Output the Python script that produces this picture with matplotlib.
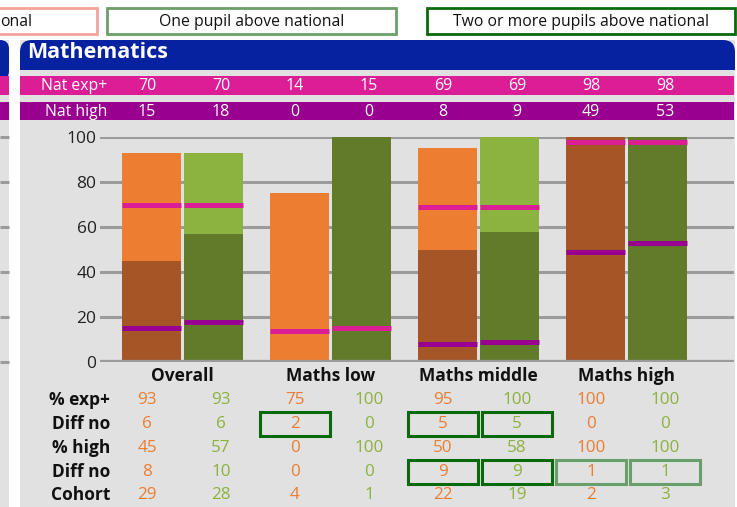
import matplotlib
matplotlib.use("Agg")
import matplotlib.pyplot as plt
import numpy as np
from matplotlib.patches import Rectangle, FancyBboxPatch
from matplotlib.transforms import blended_transform_factory

# data
categories = ["Overall", "Maths low", "Maths middle", "Maths high"]
nat_exp = [70, 70, 14, 15, 69, 69, 98, 98]
nat_high = [15, 18, 0, 0, 8, 9, 49, 53]
exp_pct = [93, 93, 75, 100, 95, 100, 100, 100]
diff_exp = [6, 6, 2, 0, 5, 5, 0, 0]
high_pct = [45, 57, 0, 100, 50, 58, 100, 100]
diff_high = [8, 10, 0, 0, 9, 9, 1, 1]
cohort = [29, 28, 4, 1, 22, 19, 2, 3]
# 0 = no box, 1 = one pupil above national, 2 = two or more above
flag_exp = [0, 0, 2, 0, 2, 2, 0, 0]
flag_high = [0, 0, 0, 0, 2, 2, 1, 1]
yticks = [0, 20, 40, 60, 80, 100]
legend_labels = ["onal", "One pupil above national", "Two or more pupils above national"]

ORANGE = "#ED7D31"
ORANGE_DK = "#A65526"
GREEN = "#8CB240"
GREEN_DK = "#617B2B"
PINK = "#DC1E96"
PURPLE = "#990090"
BLUE = "#0722A0"
PANEL = "#E1E1E1"
GRID = "#9B9B9B"
BOX_DK = "#0A690A"
BOX_LT = "#6A9E6A"
BOX_PINK = "#F4A29C"
FONT = "Open Sans"

fig = plt.figure(figsize=(7.37, 5.07), dpi=100)
fig.patch.set_facecolor("white")

# pixel canvas for the panel decoration
bg = fig.add_axes([0, 0, 1, 1])
bg.set_xlim(0, 737)
bg.set_ylim(507, 0)
bg.axis("off")

# legend boxes on top
for (x0, x1), col, lab in zip([(-5, 97), (107, 396), (427, 735)],
                              [BOX_PINK, BOX_LT, BOX_DK], legend_labels):
    bg.add_patch(Rectangle((x0, 8), x1 - x0, 26, fill=False, ec=col, lw=2))
    if lab == "onal":
        bg.text(0, 21.5, lab, ha="left", va="center", fontsize=11.3, family=FONT, color="#111")
    else:
        bg.text((x0 + x1) / 2, 21.5, lab, ha="center", va="center", fontsize=11.3,
                family=FONT, color="#111")

# neighbouring panel (cut off on the left)
bg.add_patch(Rectangle((-20, 40), 29, 470, color=PANEL, lw=0))
bg.add_patch(FancyBboxPatch((-20, 40), 29, 40, boxstyle="round,pad=0,rounding_size=9",
                            color=BLUE, lw=0))
bg.add_patch(Rectangle((-20, 62), 29, 8, color=PANEL, lw=0))
bg.add_patch(Rectangle((-20, 40), 20, 30, color=BLUE, lw=0))
bg.add_patch(Rectangle((-20, 55), 29, 15, color=BLUE, lw=0))
bg.add_patch(Rectangle((-20, 76), 29, 19, color=PINK, lw=0))
bg.add_patch(Rectangle((-20, 102), 29, 18, color=PURPLE, lw=0))

# main panel
bg.add_patch(Rectangle((20, 40), 715, 470, color=PANEL, lw=0))
bg.add_patch(FancyBboxPatch((20, 40), 715, 40, boxstyle="round,pad=0,rounding_size=12",
                            color=BLUE, lw=0))
bg.add_patch(Rectangle((20, 70), 715, 10, color=PANEL, lw=0))
bg.add_patch(Rectangle((20, 55), 715, 15, color=BLUE, lw=0))
bg.text(27, 53, "Mathematics", ha="left", va="center", fontsize=15.5, family=FONT,
        fontweight="bold", color="white")

bg.add_patch(Rectangle((20, 76), 714, 19, color=PINK, lw=0))
bg.add_patch(Rectangle((20, 102), 714, 18, color=PURPLE, lw=0))

col_x = [147 + 74 * k for k in range(8)]
bg.text(107, 86, "Nat exp+", ha="right", va="center", fontsize=11.3, family=FONT, color="white")
bg.text(107, 111.5, "Nat high", ha="right", va="center", fontsize=11.3, family=FONT, color="white")
for k in range(8):
    bg.text(col_x[k], 86, str(nat_exp[k]), ha="center", va="center", fontsize=11.5,
            family=FONT, color="white")
    bg.text(col_x[k], 111.5, str(nat_high[k]), ha="center", va="center", fontsize=11.5,
            family=FONT, color="white")

# table under the chart
rows = [("% exp+", exp_pct, None), ("Diff no", diff_exp, flag_exp),
        ("% high", high_pct, None), ("Diff no", diff_high, flag_high),
        ("Cohort", cohort, None)]
row_y = [400, 424, 448, 472, 495]
for (lab, vals, flags), y in zip(rows, row_y):
    bg.text(110, y, lab, ha="right", va="center", fontsize=12.5, family=FONT,
            fontweight="bold", color="#111")
    for k in range(8):
        bg.text(col_x[k], y, str(vals[k]), ha="center", va="center", fontsize=12.3,
                family=FONT, color=ORANGE if k % 2 == 0 else GREEN)
        if flags and flags[k]:
            bg.add_patch(Rectangle((col_x[k] - 35, y - 12), 70, 24, fill=False,
                                   ec=BOX_DK if flags[k] == 2 else BOX_LT, lw=2.2))

# the chart
ax = fig.add_axes([100 / 737, 1 - 362 / 507, 634 / 737, 225 / 507])
ax.set_facecolor("none")
ax.set_zorder(2)
width = 0.399
off = 0.2095
xs = np.repeat(np.arange(len(categories)), 2) + np.tile([-off, off], len(categories))
dark = [ORANGE_DK, GREEN_DK] * len(categories)
light = [ORANGE, GREEN] * len(categories)
high = np.array(high_pct)
exp = np.array(exp_pct)
ax.bar(xs, high, width, color=dark, zorder=2, clip_on=False)
ax.bar(xs, exp - high, width, bottom=high, color=light, zorder=2, clip_on=False)
ax.hlines(nat_exp, xs - width / 2, xs + width / 2, color=PINK, lw=3.6, zorder=3,
          capstyle="butt", clip_on=False)
ax.hlines(nat_high, xs - width / 2, xs + width / 2, color=PURPLE, lw=3.6, zorder=3,
          capstyle="butt")

ax.set_xlim(-82.5 / 148, (634 - 82.5) / 148)
ax.set_ylim(0, 100)
ax.set_yticks(yticks)
ax.set_yticklabels([str(t) for t in yticks], fontsize=12.5, family=FONT, color="#222")
ax.set_xticks(range(len(categories)))
ax.set_xticklabels(categories, fontsize=12.5, family=FONT, fontweight="bold", color="#111")
ax.tick_params(length=0)
ax.tick_params(axis="y", pad=2.5)
ax.tick_params(axis="x", pad=3.5)
for s in ax.spines.values():
    s.set_visible(False)
ax.set_axisbelow(True)
ax.yaxis.grid(True, color=GRID, lw=2.2)
ax.axhline(0, color=GRID, lw=3.8, zorder=4)

# gridlines of the cut-off left panel
tr = blended_transform_factory(bg.transData, ax.transData)
ax.hlines(yticks, 0, 9, transform=tr, color=GRID, lw=2.2, clip_on=False)

fig.savefig("out.png", dpi=100)
